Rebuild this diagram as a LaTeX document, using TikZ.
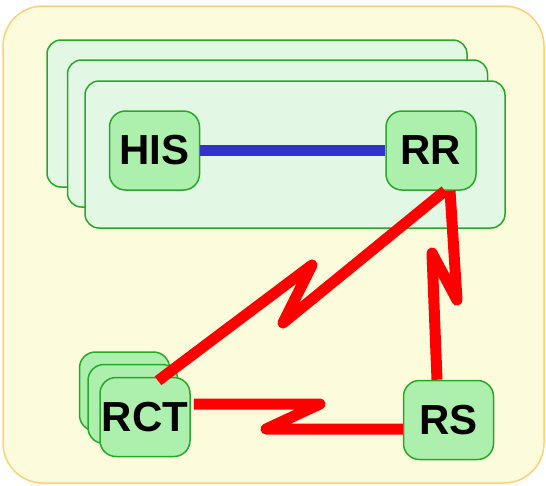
\documentclass[tikz,border=0pt]{standalone}
\usepackage{fontspec}
\setmainfont{Liberation Sans}
\usetikzlibrary{calc}

\definecolor{bgfill}{RGB}{252,252,220}
\definecolor{bgline}{RGB}{255,208,120}
\definecolor{groupfill}{RGB}{226,247,228}
\definecolor{boxfill}{RGB}{173,240,173}
\definecolor{boxline}{RGB}{40,168,40}
\definecolor{hisblue}{RGB}{51,51,204}

\begin{document}
\begin{tikzpicture}[x=1pt, y=-1pt,
  group/.style={draw=boxline, fill=groupfill, line width=1.5pt,
    rounded corners=14pt, minimum width=420pt, minimum height=147pt},
  box/.style={draw=boxline, fill=boxfill, line width=1.5pt,
    rounded corners=16pt, minimum width=90pt, minimum height=79pt,
    inner sep=0pt, font=\fontsize{42}{42}\selectfont\bfseries},
  link/.style={line width=11pt, red, line join=round}]
\useasboundingbox (0,0) rectangle (546,485);
\draw[draw=bgline, fill=bgfill, line width=1.5pt, rounded corners=40pt]
  (3,6) rectangle (544,483);

% stacked groups
\node[group] (grp1) at (257,113.5) {};
\node[group] (grp2) at (277.5,133.5) {};
\node[group] (grp3) at (295,154.5) {};

\node[box] (his) at (154.5,150.5) {HIS};
\node[box] (rr)  at (431,150.5)   {RR};

\node[box] (rct3) at (124.5,391.5) {};
\node[box] (rct2) at (133,404)     {};
\node[box] (rct)  at (145,417)     {RCT};
\node[box] (rs)   at (448.5,420)   {RS};

\draw[line width=11pt, hisblue] (his) -- (rr);

% zigzag links
\coordinate (zag1) at (283,323);
\coordinate (zag2) at (312,265);
\coordinate (zag3) at (457,300);
\coordinate (zag4) at (432,253);
\coordinate (zag5) at (320,404);
\coordinate (zag6) at (266,429);
\draw[link] ([xshift=14pt]rr.south) -- (zag1) -- (zag2) -- ([xshift=13pt,yshift=-4pt]rct.north);
\draw[link] ([xshift=19pt]rr.south) -- (zag3) -- (zag4) -- ([xshift=-11.5pt]rs.north);
\draw[link] ([xshift=3pt,yshift=13pt]rct.east) -- (zag5) -- (zag6) -- ([yshift=-9pt]rs.west);
\end{tikzpicture}
\end{document}
